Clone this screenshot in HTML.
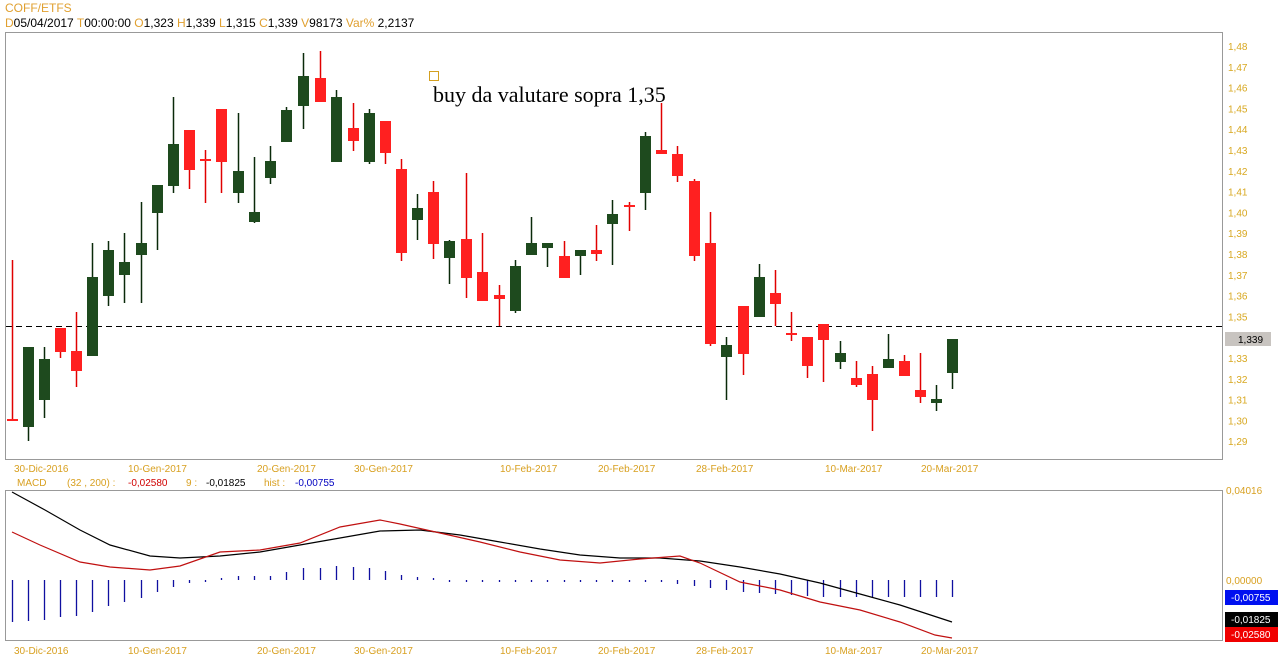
<!DOCTYPE html>
<html><head><meta charset="utf-8"><style>
html,body{margin:0;padding:0;background:#fff;width:1278px;height:668px;overflow:hidden}
svg{display:block;font-family:"Liberation Sans",sans-serif}
</style></head><body>
<svg id="s" width="1278" height="668" xmlns="http://www.w3.org/2000/svg">
<rect x="0" y="0" width="1278" height="668" fill="#fff"/>
<text x="5" y="12" font-size="12" fill="#e0a030">COFF/ETFS</text>
<text y="27" font-size="12" fill="#000"><tspan x="5" fill="#e0a030">D</tspan><tspan>05/04/2017 </tspan><tspan fill="#e0a030"> T</tspan><tspan>00:00:00 </tspan><tspan fill="#e0a030"> O</tspan><tspan>1,323 </tspan><tspan fill="#e0a030"> H</tspan><tspan>1,339 </tspan><tspan fill="#e0a030"> L</tspan><tspan>1,315 </tspan><tspan fill="#e0a030"> C</tspan><tspan>1,339 </tspan><tspan fill="#e0a030"> V</tspan><tspan>98173 </tspan><tspan fill="#e0a030"> Var%</tspan><tspan> 2,2137</tspan></text>
<rect x="5.5" y="32.5" width="1217" height="427" fill="none" stroke="#999"/>
<rect x="5.5" y="490.5" width="1217" height="150" fill="none" stroke="#999"/>
<line x1="6" y1="326.5" x2="1222" y2="326.5" stroke="#000" stroke-dasharray="6,4"/>
<rect x="429.5" y="71.5" width="9" height="9" fill="none" stroke="#d4a020"/>
<text x="433" y="102" font-family="Liberation Serif,serif" font-size="22" fill="#000">buy da valutare sopra 1,35</text>
<g id="g"></g>
</svg>
<script>
var g=document.getElementById('g'),h='';
var C=[
['r',12,260,419,419,419],
['g',28,347,347,427,441],['g',44,347,359,400,418],['r',60,328,328,352,358],['r',76,312,351,371,387],
['g',92,243,277,356,356],['g',108,241,250,296,306],['g',124,233,262,275,303],['g',141,202,243,255,303],
['g',157,185,185,213,250],['g',173,97,144,186,193],['r',189,130,130,170,189],['r',205,150,159,161,203],
['r',221,109,109,162,193],['g',238,113,171,193,203],['g',254,157,212,222,223],['g',270,146,161,178,184],
['g',286,107,110,142,142],['g',303,53,76,106,129],['r',320,51,78,102,102],['g',336,90,97,162,162],
['r',353,103,128,141,151],['g',369,109,113,162,164],['r',385,121,121,153,164],['r',401,159,169,253,261],
['g',417,194,208,220,240],['r',433,181,192,244,259],['g',449,240,241,258,284],['r',466,173,239,278,298],
['r',482,233,272,301,301],['r',499,285,295,299,326],['g',515,260,266,311,313],['g',531,217,243,255,255],
['g',547,243,243,248,267],['r',564,241,256,278,278],['g',580,250,250,256,275],['r',596,225,250,254,261],
['g',612,200,214,224,265],['r',629,202,205,207,231],['g',645,132,136,193,210],['r',661,103,150,154,154],
['r',677,146,154,176,182],['r',694,179,181,256,261],['r',710,212,243,344,346],['g',726,337,345,357,400],
['r',743,306,306,354,375],['g',759,264,277,317,317],['r',775,270,293,304,326],['r',791,312,333,335,341],
['r',807,337,337,366,378],['r',823,324,324,340,382],['g',840,341,353,362,369],['r',856,361,378,385,387],
['r',872,366,374,400,431],['g',888,334,359,368,368],['r',904,355,361,376,376],['r',920,353,390,397,403],
['g',936,385,399,403,411],['g',952,339,339,373,389]];
C.forEach(function(c){var col=c[0]=='g'?'#1e4a1e':'#ff2020',x=c[1];
h+='<line x1="'+(x+.5)+'" y1="'+c[2]+'" x2="'+(x+.5)+'" y2="'+c[5]+'" stroke="'+(c[0]=='g'?'#0a2a0a':'#e00000')+'" stroke-width="1.5"/>';
var bh=Math.max(c[4]-c[3],2);h+='<rect x="'+(x-5)+'" y="'+c[3]+'" width="11" height="'+bh+'" fill="'+col+'"/>';});
for(var i=0;i<20;i++){var p=148-i,y=46+i*20.8;if(p==134)continue;h+='<text x="1228" y="'+(y+4)+'" font-size="10" fill="#d8a820">'+(p/100).toFixed(2).replace('.',',')+'</text>';}
h+='<rect x="1225" y="332" width="46" height="14" fill="#c8c4c0"/><text x="1238" y="343" font-size="10" fill="#000">1,339</text>';
var L=[['30-Dic-2016',14],['10-Gen-2017',128],['20-Gen-2017',257],['30-Gen-2017',354],['10-Feb-2017',500],['20-Feb-2017',598],['28-Feb-2017',696],['10-Mar-2017',825],['20-Mar-2017',921]];
L.forEach(function(l){h+='<text x="'+l[1]+'" y="472" font-size="10" fill="#d8a020">'+l[0]+'</text><text x="'+l[1]+'" y="654" font-size="10" fill="#d8a020">'+l[0]+'</text>';});
h+='<text y="486" font-size="10"><tspan x="17" fill="#d8a020">MACD</tspan><tspan x="67" fill="#d8a020">(32 , 200) :</tspan><tspan x="128" fill="#d00000">-0,02580</tspan><tspan x="186" fill="#d8a020">9 :</tspan><tspan x="206" fill="#000">-0,01825</tspan><tspan x="264" fill="#d8a020">hist :</tspan><tspan x="295" fill="#0000c0">-0,00755</tspan></text>';
var H=[622,621,620,617,616,612,606,602,598,592,587,583,582,578,576,576,576,572,568,568,566,567,568,571,575,577,578,582,582,582,582,582,582,582,582,582,582,582,582,582,582,584,586,588,590,592,593,594,595,596,597,597,597,597,597,597,597,597,597];
C.forEach(function(c,i){h+='<line x1="'+(c[1]+.5)+'" y1="580" x2="'+(c[1]+.5)+'" y2="'+H[i]+'" stroke="#1010a0" stroke-width="1.3"/>';});
var B=[[12,492],[45,510],[80,530],[110,545],[150,556],[180,558],[220,556],[260,552],[300,545],[340,538],[380,531],[420,530],[460,535],[500,542],[540,549],[580,555],[620,558],[660,558],[700,561],[740,567],[780,574],[820,583],[860,594],[900,605],[952,622]];
var R=[[12,532],[40,545],[80,562],[110,567],[150,570],[180,566],[220,552],[260,550],[300,543],[340,527],[380,520],[400,524],[440,533],[480,542],[520,552],[560,560],[600,563],[640,559],[680,556],[700,563],[740,582],[780,590],[820,602],[860,610],[900,622],[935,635],[952,638]];
h+='<polyline fill="none" stroke="#000" stroke-width="1.2" points="'+B.join(' ')+'"/>';
h+='<polyline fill="none" stroke="#c01010" stroke-width="1.2" points="'+R.join(' ')+'"/>';
h+='<text x="1226" y="494" font-size="10" fill="#d8a020">0,04016</text><text x="1226" y="584" font-size="10" fill="#d8a020">0,00000</text>';
h+='<rect x="1225" y="590" width="53" height="15" fill="#0010f0"/><text x="1231" y="601" font-size="10" fill="#fff">-0,00755</text>';
h+='<rect x="1225" y="612" width="53" height="15" fill="#000"/><text x="1231" y="623" font-size="10" fill="#fff">-0,01825</text>';
h+='<rect x="1225" y="627" width="53" height="15" fill="#f00000"/><text x="1231" y="638" font-size="10" fill="#fff">-0,02580</text>';
g.innerHTML=h;
</script>
</body></html>
